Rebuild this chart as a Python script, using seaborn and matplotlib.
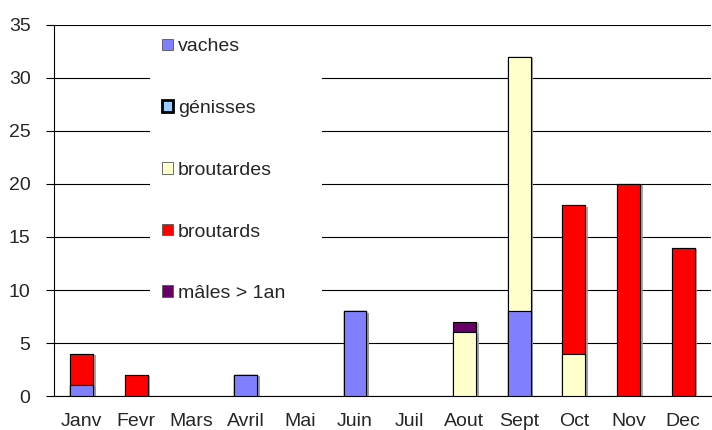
import numpy as np
import pandas as pd
import matplotlib
matplotlib.use("Agg")
import matplotlib.pyplot as plt
import matplotlib.patheffects as pe
from matplotlib.patches import Patch, Rectangle
import seaborn as sns

mois = ["Janv", "Fevr", "Mars", "Avril", "Mai", "Juin", "Juil", "Aout", "Sept", "Oct", "Nov", "Dec"]
vaches = [1, 0, 0, 2, 0, 8, 0, 0, 8, 0, 0, 0]
genisses = [0, 0, 0, 0, 0, 0, 0, 0, 0, 0, 0, 0]
broutardes = [0, 0, 0, 0, 0, 0, 0, 6, 24, 4, 0, 0]
broutards = [3, 2, 0, 0, 0, 0, 0, 0, 0, 14, 20, 14]
males = [0, 0, 0, 0, 0, 0, 0, 1, 0, 0, 0, 0]

series = ["vaches", "génisses", "broutardes", "broutards", "mâles > 1an"]
couleurs = ["#8080FF", "#99CCFF", "#FFFFCC", "#FF0000", "#660066"]

df = pd.DataFrame({"mois": mois, "vaches": vaches, "génisses": genisses,
                   "broutardes": broutardes, "broutards": broutards,
                   "mâles > 1an": males})
cum = df[series].cumsum(axis=1)
cum["mois"] = mois

sns.set_style("white")
plt.rcParams["font.family"] = ["Liberation Sans", "DejaVu Sans"]

fig = plt.figure(figsize=(7.12, 4.3), dpi=100)
ax = fig.add_axes([0.076, 0.079, 0.922, 0.863])

ombre = [pe.SimplePatchShadow(offset=(2, -1), shadow_rgbFace="#999999", alpha=0.6), pe.Normal()]

# draw the tallest layer first, lower layers on top of it
for s, c in reversed(list(zip(series, couleurs))):
    sns.barplot(data=cum, x="mois", y=s, color=c, saturation=1, width=0.42,
                edgecolor="black", linewidth=0.8, ax=ax, zorder=3)

for p in ax.patches:
    if p.get_height() > 0:
        p.set_path_effects(ombre)
    else:
        p.set_visible(False)

ax.set_ylim(0, 35)
ax.set_xlim(-0.5, 11.5)
ax.set_yticks(range(0, 36, 5))
ax.yaxis.grid(True, color="black", linewidth=0.8, zorder=0)
ax.set_axisbelow(True)
ax.set_xlabel("")
ax.set_ylabel("")

ax.set_xticks(np.arange(-0.5, 12, 1), minor=True)
ax.tick_params(axis="x", which="major", length=0, labelsize=14, pad=12)
ax.tick_params(axis="x", which="minor", length=5, width=0.8, color="black", direction="out")
ax.tick_params(axis="y", length=6, width=0.8, color="black", direction="out",
               labelsize=14, left=True, pad=11)

for side in ["top", "right"]:
    ax.spines[side].set_visible(False)
for side in ["left", "bottom"]:
    ax.spines[side].set_color("black")
    ax.spines[side].set_linewidth(0.8)

# white legend area hiding the gridlines
fig.patches.append(Rectangle((150 / 712, 1 - 312 / 430), 172 / 712, 280 / 430,
                             transform=fig.transFigure, facecolor="white",
                             edgecolor="none", zorder=4))

handles = []
for s, c in zip(series, couleurs):
    if s == "génisses":
        handles.append(Patch(facecolor=c, edgecolor="black", linewidth=2, label=s))
    else:
        handles.append(Patch(facecolor=c, edgecolor="#555555", linewidth=0.6, label=s))

leg = fig.legend(handles=handles, loc="upper left", bbox_to_anchor=(0.206, 0.947),
                 frameon=False, fontsize=14, labelspacing=2.3, handlelength=0.55,
                 handleheight=0.55, handletextpad=0.25, borderpad=0.3)
leg.set_zorder(5)

fig.savefig("out.png", dpi=100)
